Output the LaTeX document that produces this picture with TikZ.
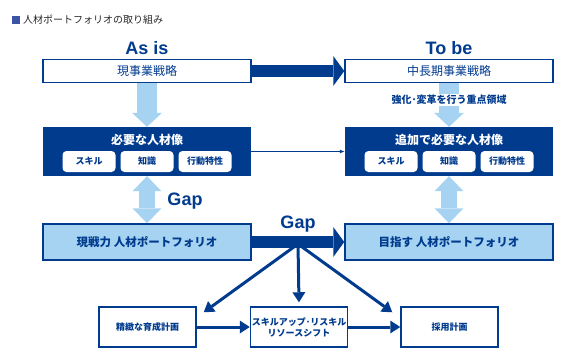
\documentclass[tikz,border=0pt]{standalone}
\usepackage{fontspec}
\setmainfont{Noto Sans CJK JP}
\newfontfamily\latfont{Liberation Sans}
\usetikzlibrary{arrows.meta,backgrounds,calc}
\definecolor{navy}{RGB}{0,59,142}
\definecolor{sky}{RGB}{166,211,241}
\definecolor{bulletblue}{RGB}{60,84,166}

\begin{document}
\begin{tikzpicture}[x=1pt,y=-1pt,
  plan/.style={draw=navy,line width=1.5pt,fill=white,minimum width=208pt,minimum height=23pt,inner sep=0pt,text=navy,font=\fontsize{12}{14}\selectfont},
  req/.style={fill=navy,minimum width=208pt,minimum height=49pt,inner sep=0pt},
  chip/.style={fill=white,rounded corners=4pt,minimum width=53pt,minimum height=21pt,inner sep=0pt,text=navy,font=\bfseries\fontsize{9}{11}\selectfont},
  folio/.style={draw=navy,line width=1.5pt,fill=sky,minimum width=208pt,minimum height=36pt,inner sep=0pt,text=navy,font=\bfseries\fontsize{11.5}{14}\selectfont},
  act/.style={draw=navy,line width=1.5pt,fill=white,minimum width=97pt,minimum height=40pt,inner sep=0pt,align=center,text=navy,font=\bfseries\fontsize{9}{11}\selectfont},
  head/.style={text=navy,font=\latfont\bfseries\fontsize{18}{20}\selectfont},
  fat/.style={navy,line width=12pt,-{Triangle[length=11pt,width=30pt,line width=0pt]}},
  soft/.style={sky,line width=20pt,-{Triangle[length=14pt,width=30pt,line width=0pt]}},
  twin/.style={sky,line width=16pt,{Triangle[length=15pt,width=29pt,line width=0pt]}-{Triangle[length=15pt,width=29pt,line width=0pt]}},
  slim/.style={navy,line width=3pt,-{Triangle[length=10pt,width=13pt,line width=0pt]}}
]
  \useasboundingbox (0,0) rectangle (568,359);

  % title
  \fill[bulletblue] (12,16) rectangle (20,24);
  \node[anchor=west,inner sep=0pt,text=black!85,font=\fontsize{10}{12}\selectfont] (title) at (23,20) {人材ポートフォリオの取り組み};

  \node[head] (asis) at (147,48) {As is};
  \node[head] (tobe) at (449,48) {To be};
  \node[plan] (cur) at (147,71) {現事業戦略};
  \node[plan] (fut) at (449,71) {中長期事業戦略};

  \node[req] (need) at (147,151.5) {};
  \node[req] (add) at (449,151.5) {};
  \node[text=white,font=\bfseries\fontsize{12}{14}\selectfont] (need-t) at (147,140) {必要な人材像};
  \node[text=white,font=\bfseries\fontsize{12}{14}\selectfont] (add-t) at (449,140) {追加で必要な人材像};
  \foreach \n/\x in {need/147,add/449} {
    \foreach \t [count=\i] in {スキル,知識,行動特性}
      \node[chip] (\n-\i) at ({\x+(\i-2)*58},161.5) {\t};
  }

  \node[folio] (now) at (147,242) {現戦力 人材ポートフォリオ};
  \node[folio] (goal) at (449,242) {目指す 人材ポートフォリオ};

  \node[act] (train) at (147.5,327) {精緻な育成計画};
  \node[act] (shift) at (299,327) {スキルアップ･リスキル\\リソースシフト};
  \node[act] (hire) at (449.5,327) {採用計画};

  \node[head] (gap1) at (185,201) {Gap};
  \node[head] (gap2) at (298,224) {Gap};

  \coordinate (fork) at (298,244);
  \coordinate (train-in) at ($(train.north east)+(7,6)$);
  \coordinate (shift-in) at ($(shift.north)+(0,-4)$);
  \coordinate (hire-in) at ($(hire.north west)+(-8,6)$);

  \begin{scope}[on background layer]
    \draw[soft] (cur) -- (need);
    \draw[soft] (fut) -- (add);
    \draw[twin] (need) -- (now);
    \draw[twin] (add) -- (goal);
    \draw[slim] (fork) -- (train-in);
    \draw[slim] (fork) -- (shift-in);
    \draw[slim] (fork) -- (hire-in);
    \draw[fat] (cur) -- (fut);
    \draw[fat] (now) -- (goal);
  \end{scope}
  \node[text=navy,fill=white,inner sep=1pt,font=\bfseries\fontsize{10}{12}\selectfont] (focus) at (449,100) {強化･変革を行う重点領域};

  \draw[navy,line width=1pt,-{Latex[length=5pt,width=4pt]}] (need) -- (add);
  \draw[slim] (train) -- (shift);
  \draw[slim] (shift) -- (hire);
\end{tikzpicture}
\end{document}
